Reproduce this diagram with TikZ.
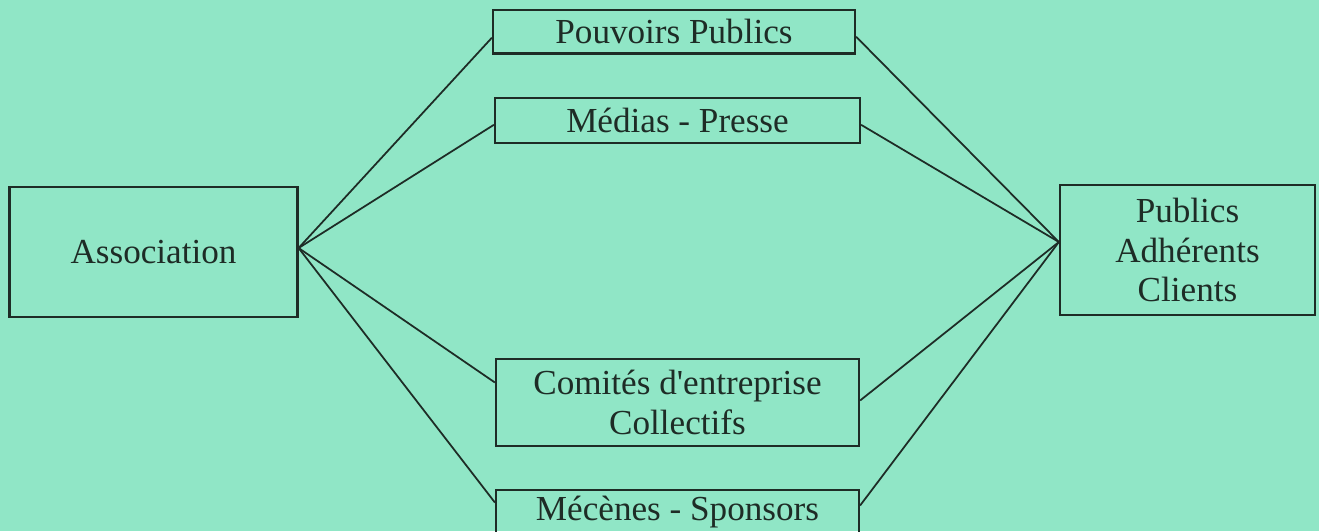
\documentclass[tikz,border=0pt]{standalone}
\usepackage{fontspec}
\setmainfont{Liberation Serif}
\usetikzlibrary{positioning,calc}
\definecolor{mint}{RGB}{144,230,198}
\definecolor{ink}{RGB}{30,44,38}

\begin{document}
\begin{tikzpicture}[x=0.02cm,y=-0.02cm,
box/.style={draw=ink,line width=1.3pt,align=center,text=ink,inner sep=0pt,
font=\fontsize{20}{22.5}\selectfont},
link/.style={draw=ink,line width=1pt}]
\fill[mint] (0,0) rectangle (1319,531);
\useasboundingbox (0,0) rectangle (1319,531);
% boxes
\node[box,minimum width=5.76cm,minimum height=2.6cm] (assoc) at (153.5,252) {Association};
\node[box,minimum width=5.1cm,minimum height=2.6cm] (pub) at (1187.5,250) {Publics\\Adhérents\\Clients};
\node[box,minimum width=7.24cm,minimum height=0.87cm] (pp) at (674,31.7) {Pouvoirs Publics};
\node[box,minimum width=7.3cm,minimum height=0.9cm] (med) at (677.5,120.8) {Médias - Presse};
\node[box,minimum width=7.26cm,minimum height=1.74cm] (ce) at (677.5,402.5) {Comités d\textquotesingle entreprise\\Collectifs};
\node[box,minimum width=7.26cm,minimum height=0.9cm] (mec) at (677.5,512.5) {Mécènes - Sponsors};
% connectors
\coordinate (assocport) at ($(assoc.east)+(0,-4)$);
\coordinate (pubport) at ($(pub.west)+(0,-8)$);
\foreach \n/\l/\r in {pp/6/5,med/4/4,ce/-20/-2,mec/-10/-7}
{\draw[link] (assocport) -- ($(\n.west)+(0,\l)$);
\draw[link] ($(\n.east)+(0,\r)$) -- (pubport);}
\end{tikzpicture}
\end{document}
